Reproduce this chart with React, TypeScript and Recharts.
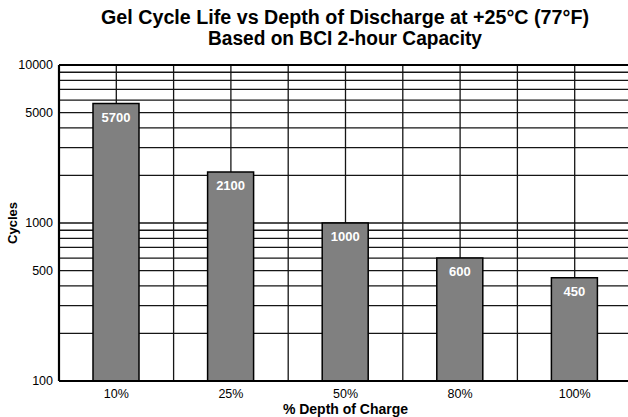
import { BarChart, Bar, XAxis, YAxis, CartesianGrid, LabelList, ReferenceLine } from "recharts";

const categories = ["10%", "25%", "50%", "80%", "100%"];
const cycles = [5700, 2100, 1000, 600, 450];
const yTicks = [100, 200, 300, 400, 500, 600, 700, 800, 900, 1000, 2000, 3000, 4000, 5000, 6000, 7000, 8000, 9000, 10000];
const yLabelled = [100, 500, 1000, 5000, 10000];

const data = categories.map((c, i) => ({ pct: c, cycles: cycles[i] }));

const FONT = '"Liberation Sans", Arial, Helvetica, sans-serif';
const TITLE_FONT = '"Liberation Sans Narrow", "Liberation Sans", Arial, sans-serif';

export default function App() {
  return (
    <div style={{ position: "fixed", left: 0, top: 0, width: 628, height: 417, overflow: "hidden", background: "#fff" }}>
      <BarChart width={640} height={417} data={data} margin={{ top: 65, right: 8, bottom: 0, left: 0 }}>
        <CartesianGrid
          stroke="#151515"
          strokeWidth={1.3}
          verticalCoordinatesGenerator={({ offset }: any) => {
            const step = offset.width / categories.length;
            return Array.from({ length: categories.length * 2 + 1 }, (_, i) => offset.left + (i * step) / 2);
          }}
        />
        <XAxis
          dataKey="pct"
          height={36}
          tickLine={false}
          tickSize={0}
          tickMargin={8}
          axisLine={{ stroke: "#000", strokeWidth: 2.2 }}
          tick={{ fontSize: 12.5, fill: "#000", fontFamily: FONT }}
          label={{ value: "% Depth of Charge", position: "insideBottom", offset: 3, style: { fontWeight: "bold", fontSize: 14, fill: "#000", fontFamily: FONT } }}
        />
        <YAxis
          width={59}
          scale="log"
          type="number"
          domain={[100, 10000]}
          ticks={yTicks}
          interval={0}
          tickLine={false}
          tickSize={0}
          tickMargin={6}
          axisLine={{ stroke: "#000", strokeWidth: 2.2 }}
          tick={{ fontSize: 12.5, fill: "#000", fontFamily: FONT }}
          tickFormatter={(v: number) => (yLabelled.includes(v) ? String(v) : "")}
          label={{ value: "Cycles", angle: -90, position: "insideLeft", offset: 12, style: { textAnchor: "middle", fontWeight: "bold", fontSize: 13, fill: "#000", fontFamily: FONT } }}
        />
        <ReferenceLine y={10000} stroke="#000" strokeWidth={2.2} />
        <Bar dataKey="cycles" fill="#808080" stroke="#000" strokeWidth={1.5} barSize={46} isAnimationActive={false}>
          <LabelList dataKey="cycles" position="insideTop" offset={9} fill="#fff" fontWeight="bold" fontSize={13} fontFamily={FONT} />
        </Bar>
      </BarChart>
      <svg width={628} height={60} style={{ position: "absolute", left: 0, top: 0 }}>
        <text x={345} y={24} textAnchor="middle" fontFamily={TITLE_FONT} fontWeight="bold" fontSize={20} textLength={488} lengthAdjust="spacingAndGlyphs" fill="#000">
          Gel Cycle Life vs Depth of Discharge at +25°C (77°F)
        </text>
        <text x={345} y={45} textAnchor="middle" fontFamily={TITLE_FONT} fontWeight="bold" fontSize={20} textLength={274} lengthAdjust="spacingAndGlyphs" fill="#000">
          Based on BCI 2-hour Capacity
        </text>
      </svg>
    </div>
  );
}
